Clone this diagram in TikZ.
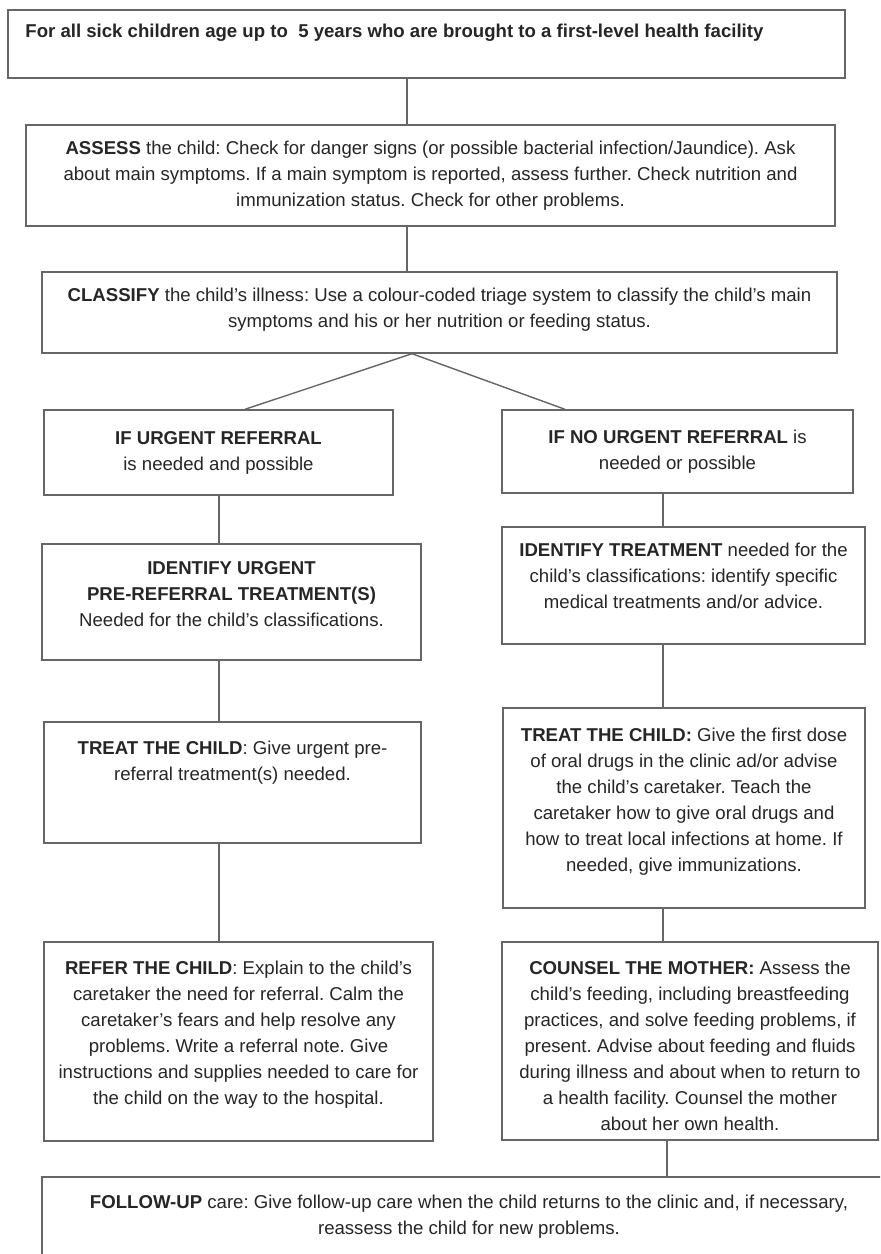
\documentclass[tikz,border=0pt]{standalone}
\usepackage{fontspec}
\setmainfont{Liberation Sans}
\usetikzlibrary{positioning, fit}
\frenchspacing

\begin{document}
\begin{tikzpicture}[x=0.5pt,y=-0.5pt,
  every node/.style={font=\fontsize{9.3}{13}\selectfont, text=black!85},
  stepbox/.style={draw=black!60, line width=0.7pt, inner sep=0pt},
  boxtext/.style={align=center, inner sep=0pt, anchor=north},
  link/.style={draw=black!60, line width=0.7pt}]
  \clip (0,0) rectangle (880,1254);
  \fill[white] (0,0) rectangle (880,1254);
  % boxes, in pixels of the sheet
  \foreach \n/\xa/\ya/\xb/\yb in {start/8/10/845/78, assess/26/125/835/226,
      classify/42/272/837/353, urgent/44/410/393/495, nourgent/502/410/853/493,
      prerefer/42/544/421/660, identify/502/527/865/644, treatL/44/722/421/843,
      treatR/503/708/865/908, refer/44/942/433/1141, counsel/502/942/878/1140,
      followup/42/1177/896/1290}
    \node[stepbox, fit={(\xa,\ya) (\xb,\yb)}] (\n) {};
  % texts
  \node[boxtext, anchor=west] (starttext) at (25,33) {\bfseries For all sick children age up to\ \ 5 years who are brought to a first-level health facility};
  \node[boxtext] (assesstext) at (assess.north |- 0,141) {\textbf{ASSESS} the child: Check for danger signs (or possible bacterial infection/Jaundice). Ask\\
    about main symptoms. If a main symptom is reported, assess further. Check nutrition and\\
    immunization status. Check for other problems.};
  \node[boxtext] (classifytext) at (classify.north |- 0,288) {\textbf{CLASSIFY} the child's illness: Use a colour-coded triage system to classify the child's main\\
    symptoms and his or her nutrition or feeding status.};
  \node[boxtext] (urgenttext) at (urgent.north |- 0,431) {\textbf{IF URGENT REFERRAL}\\ is needed and possible};
  \node[boxtext] (nourgenttext) at (nourgent.north |- 0,430) {\textbf{IF NO URGENT REFERRAL} is\\ needed or possible};
  \node[boxtext] (prerefertext) at (prerefer.north |- 0,561) {\textbf{IDENTIFY URGENT}\\ \textbf{PRE-REFERRAL TREATMENT(S)}\\ Needed for the child's classifications.};
  \node[boxtext] (identifytext) at (identify.north |- 0,543) {\textbf{IDENTIFY TREATMENT} needed for the\\
    child's classifications: identify specific\\ medical treatments and/or advice.};
  \node[boxtext] (treatLtext) at (treatL.north |- 0,741) {\textbf{TREAT THE CHILD}: Give urgent pre-\\ referral treatment(s) needed.};
  \node[boxtext] (treatRtext) at (treatR.north |- 0,728) {\textbf{TREAT THE CHILD:} Give the first dose\\
    of oral drugs in the clinic ad/or advise\\ the child's caretaker. Teach the\\
    caretaker how to give oral drugs and\\ how to treat local infections at home. If\\ needed, give immunizations.};
  \node[boxtext] (refertext) at (refer.north |- 0,961) {\textbf{REFER THE CHILD}: Explain to the child's\\
    caretaker the need for referral. Calm the\\ caretaker's fears and help resolve any\\
    problems. Write a referral note. Give\\ instructions and supplies needed to care for\\ the child on the way to the hospital.};
  \node[boxtext] (counseltext) at (counsel.north |- 0,961) {\textbf{COUNSEL THE MOTHER:} Assess the\\
    child's feeding, including breastfeeding\\ practices, and solve feeding problems, if\\
    present. Advise about feeding and fluids\\ during illness and about when to return to\\
    a health facility. Counsel the mother\\ about her own health.};
  \node[boxtext] (followuptext) at (followup.north |- 0,1195) {\textbf{FOLLOW-UP} care: Give follow-up care when the child returns to the clinic and, if necessary,\\
    reassess the child for new problems.};
  % connectors
  \coordinate (spine) at (407,0);
  \coordinate (apex) at (412,0);
  \coordinate (lspine) at (219,0);
  \coordinate (rspine) at (663,0);
  \coordinate (bspine) at (667,0);
  \draw[link] (start.south -| spine) -- (assess.north -| spine);
  \draw[link] (assess.south -| spine) -- (classify.north -| spine);
  \draw[link] (classify.south -| apex) -- (urgent.north -| 245,0);
  \draw[link] (classify.south -| apex) -- (nourgent.north -| 565,0);
  \foreach \a/\b in {urgent/prerefer, prerefer/treatL, treatL/refer}
    \draw[link] (\a.south -| lspine) -- (\b.north -| lspine);
  \foreach \a/\b in {nourgent/identify, identify/treatR, treatR/counsel}
    \draw[link] (\a.south -| rspine) -- (\b.north -| rspine);
  \draw[link] (counsel.south -| bspine) -- (followup.north -| bspine);
\end{tikzpicture}
\end{document}
